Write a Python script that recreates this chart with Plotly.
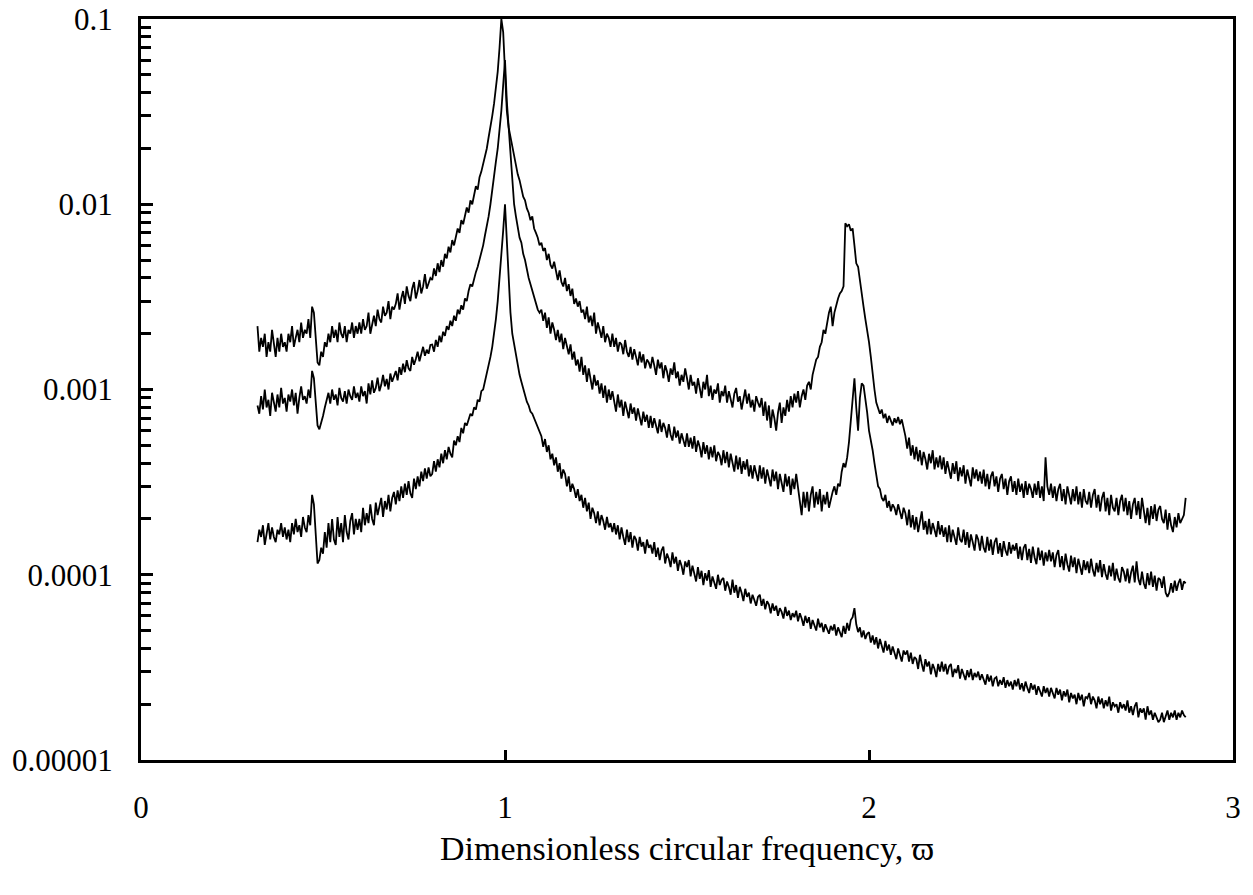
import plotly.graph_objects as go

# sampling grid of the three spectra (dimensionless circular frequency)
x_start = 0.32
x_step = 0.005

# top spectrum
top_vals = [
    # 0.320 - 0.395
    2.2e-3, 1.6e-3, 1.9e-3, 1.7e-3, 2.0e-3, 1.5e-3, 1.8e-3, 1.6e-3, 2.1e-3, 1.7e-3, 1.5e-3, 1.9e-3, 1.6e-3, 2.0e-3, 1.7e-3, 1.8e-3,
    # 0.40
    1.6e-3, 2.0e-3, 1.8e-3, 2.2e-3, 1.7e-3, 1.9e-3, 2.1e-3, 1.8e-3, 2.3e-3, 1.9e-3, 2.1e-3, 2.0e-3, 2.4e-3, 1.9e-3, 2.8e-3, 2.6e-3, 1.9e-3, 1.4e-3, 1.35e-3, 1.6e-3,
    # 0.50
    1.5e-3, 1.8e-3, 1.7e-3, 2.0e-3, 1.8e-3, 2.2e-3, 1.9e-3, 2.1e-3, 1.8e-3, 2.3e-3, 2.0e-3, 1.9e-3, 2.2e-3, 1.8e-3, 2.1e-3, 2.0e-3, 2.3e-3, 1.9e-3, 2.2e-3, 2.0e-3,
    # 0.60
    2.3e-3, 2.0e-3, 2.4e-3, 2.1e-3, 2.2e-3, 2.6e-3, 2.0e-3, 2.3e-3, 2.5e-3, 2.2e-3, 2.7e-3, 2.4e-3, 2.3e-3, 2.8e-3, 2.5e-3, 2.6e-3, 3.0e-3, 2.4e-3, 2.8e-3, 2.7e-3,
    # 0.70
    2.9e-3, 3.3e-3, 2.7e-3, 3.1e-3, 3.4e-3, 2.9e-3, 3.6e-3, 3.2e-3, 3.0e-3, 3.5e-3, 3.8e-3, 3.1e-3, 3.4e-3, 3.9e-3, 3.3e-3, 3.6e-3, 4.2e-3, 3.5e-3, 3.8e-3, 4.0e-3,
    # 0.80
    3.9e-3, 4.5e-3, 4.1e-3, 4.8e-3, 4.3e-3, 5.0e-3, 4.6e-3, 5.4e-3, 5.1e-3, 5.9e-3, 5.5e-3, 6.4e-3, 6.0e-3, 6.8e-3, 7.4e-3, 7.0e-3, 8.2e-3, 7.8e-3, 8.8e-3, 9.6e-3,
    # 0.90
    9.0e-3, 1.05e-2, 1.0e-2, 1.15e-2, 1.25e-2, 1.2e-2, 1.4e-2, 1.5e-2, 1.65e-2, 1.8e-2, 2.0e-2, 2.3e-2, 2.6e-2, 3.0e-2, 3.5e-2, 4.2e-2, 5.2e-2, 7.0e-2, 1.0e-1, 8.5e-2,
    # 1.00
    5.5e-2, 3.2e-2, 2.6e-2, 2.3e-2, 2.0e-2, 1.8e-2, 1.6e-2, 1.45e-2, 1.35e-2, 1.2e-2, 1.1e-2, 1.05e-2, 9.5e-3, 9.0e-3, 8.2e-3, 8.6e-3, 7.4e-3, 7.0e-3, 6.6e-3, 6.0e-3,
    # 1.10
    6.2e-3, 5.6e-3, 5.8e-3, 5.0e-3, 5.4e-3, 4.7e-3, 4.5e-3, 4.9e-3, 4.3e-3, 3.9e-3, 4.4e-3, 3.8e-3, 3.6e-3, 4.0e-3, 3.4e-3, 3.7e-3, 3.2e-3, 3.5e-3, 2.9e-3, 3.1e-3,
    # 1.20
    2.8e-3, 3.0e-3, 2.6e-3, 2.7e-3, 2.4e-3, 2.8e-3, 2.3e-3, 2.5e-3, 2.2e-3, 2.6e-3, 2.0e-3, 2.3e-3, 2.1e-3, 1.9e-3, 2.2e-3, 1.8e-3, 2.0e-3, 1.9e-3, 1.7e-3, 2.0e-3,
    # 1.30
    1.7e-3, 1.9e-3, 1.6e-3, 1.8e-3, 1.75e-3, 1.55e-3, 1.85e-3, 1.6e-3, 1.5e-3, 1.7e-3, 1.45e-3, 1.65e-3, 1.5e-3, 1.35e-3, 1.6e-3, 1.4e-3, 1.55e-3, 1.3e-3, 1.45e-3, 1.4e-3,
    # 1.40
    1.3e-3, 1.5e-3, 1.35e-3, 1.2e-3, 1.45e-3, 1.3e-3, 1.4e-3, 1.15e-3, 1.35e-3, 1.25e-3, 1.1e-3, 1.3e-3, 1.2e-3, 1.4e-3, 1.15e-3, 1.25e-3, 1.05e-3, 1.2e-3, 1.1e-3, 1.3e-3,
    # 1.50
    1.15e-3, 1.0e-3, 1.2e-3, 1.05e-3, 1.1e-3, 9.5e-4, 1.15e-3, 1.0e-3, 9.0e-4, 1.1e-3, 1.0e-3, 1.2e-3, 9.2e-4, 1.05e-3, 8.8e-4, 1.0e-3, 9.5e-4, 1.08e-3, 8.5e-4, 9.8e-4,
    # 1.60
    9.2e-4, 1.05e-3, 8.5e-4, 9.8e-4, 9.0e-4, 8.0e-4, 9.5e-4, 1.02e-3, 8.6e-4, 9.2e-4, 7.8e-4, 9.0e-4, 1.0e-3, 8.4e-4, 9.5e-4, 8.0e-4, 8.8e-4, 7.6e-4, 9.2e-4, 8.5e-4,
    # 1.70
    8.0e-4, 9.0e-4, 7.2e-4, 8.6e-4, 6.8e-4, 8.2e-4, 6.2e-4, 7.8e-4, 7.0e-4, 6.0e-4, 7.5e-4, 8.5e-4, 6.6e-4, 8.0e-4, 7.2e-4, 8.8e-4, 7.6e-4, 9.2e-4, 8.0e-4, 9.5e-4,
    # 1.80
    8.5e-4, 9.8e-4, 8.0e-4, 9.2e-4, 1.0e-3, 8.8e-4, 1.05e-3, 1.1e-3, 1.0e-3, 1.2e-3, 1.3e-3, 1.45e-3, 1.5e-3, 1.7e-3, 1.8e-3, 2.1e-3, 2.0e-3, 2.3e-3, 2.6e-3, 2.8e-3,
    # 1.90
    2.2e-3, 2.6e-3, 2.9e-3, 3.1e-3, 3.3e-3, 3.4e-3, 3.6e-3, 7.9e-3, 7.6e-3, 7.8e-3, 7.2e-3, 7.4e-3, 6.0e-3, 4.8e-3, 4.6e-3, 3.8e-3, 3.3e-3, 2.8e-3, 2.4e-3, 2.1e-3,
    # 2.00
    1.8e-3, 1.5e-3, 1.2e-3, 1.0e-3, 8.5e-4, 8.0e-4, 7.4e-4, 7.8e-4, 7.0e-4, 7.4e-4, 6.6e-4, 7.2e-4, 6.8e-4, 6.4e-4, 7.0e-4, 6.6e-4, 7.1e-4, 6.5e-4, 6.9e-4, 6.2e-4,
    # 2.10
    5.6e-4, 4.8e-4, 5.5e-4, 4.4e-4, 5.0e-4, 4.2e-4, 4.9e-4, 4.1e-4, 4.7e-4, 3.9e-4, 4.6e-4, 4.2e-4, 3.7e-4, 4.5e-4, 4.0e-4, 4.7e-4, 3.7e-4, 4.3e-4, 3.8e-4, 4.4e-4,
    # 2.20
    3.7e-4, 4.3e-4, 3.5e-4, 4.1e-4, 3.6e-4, 3.3e-4, 4.0e-4, 3.5e-4, 4.1e-4, 3.2e-4, 3.8e-4, 3.4e-4, 3.9e-4, 3.1e-4, 3.7e-4, 3.3e-4, 3.0e-4, 3.8e-4, 3.3e-4, 3.7e-4,
    # 2.30
    3.2e-4, 3.6e-4, 3.1e-4, 3.7e-4, 3.0e-4, 3.5e-4, 2.9e-4, 3.4e-4, 3.6e-4, 3.0e-4, 3.4e-4, 2.8e-4, 3.3e-4, 3.5e-4, 2.9e-4, 3.3e-4, 2.7e-4, 3.2e-4, 3.4e-4, 2.8e-4,
    # 2.40
    3.2e-4, 2.7e-4, 3.3e-4, 2.8e-4, 3.1e-4, 2.6e-4, 3.2e-4, 2.7e-4, 3.1e-4, 2.9e-4, 2.6e-4, 3.1e-4, 2.7e-4, 3.2e-4, 2.6e-4, 3.0e-4, 2.5e-4, 4.3e-4, 3.0e-4, 2.7e-4,
    # 2.50
    3.1e-4, 2.6e-4, 3.0e-4, 2.5e-4, 2.9e-4, 3.1e-4, 2.5e-4, 2.9e-4, 2.4e-4, 3.0e-4, 2.7e-4, 2.4e-4, 2.9e-4, 2.5e-4, 3.0e-4, 2.4e-4, 2.8e-4, 2.3e-4, 2.9e-4, 2.5e-4,
    # 2.60
    2.4e-4, 2.8e-4, 2.3e-4, 2.7e-4, 2.9e-4, 2.3e-4, 2.7e-4, 2.2e-4, 2.6e-4, 2.8e-4, 2.2e-4, 2.6e-4, 2.1e-4, 2.7e-4, 2.3e-4, 2.2e-4, 2.6e-4, 2.1e-4, 2.5e-4, 2.7e-4,
    # 2.70
    2.2e-4, 2.6e-4, 2.1e-4, 2.5e-4, 2.0e-4, 2.4e-4, 2.6e-4, 2.1e-4, 2.5e-4, 2.0e-4, 2.6e-4, 2.2e-4, 1.9e-4, 2.3e-4, 1.85e-4, 2.35e-4, 2.0e-4, 2.4e-4, 1.95e-4, 2.25e-4,
    # 2.800 - 2.870
    2.35e-4, 2.0e-4, 1.9e-4, 2.25e-4, 1.75e-4, 2.15e-4, 1.85e-4, 1.7e-4, 2.05e-4, 1.8e-4, 2.15e-4, 1.9e-4, 2.0e-4, 2.1e-4, 2.6e-4,
]

# middle spectrum
mid_vals = [
    # 0.320 - 0.395
    8.2e-4, 7.4e-4, 9.2e-4, 7.8e-4, 1.0e-3, 8.0e-4, 8.8e-4, 7.2e-4, 9.6e-4, 8.4e-4, 7.6e-4, 9.4e-4, 8.0e-4, 1.02e-3, 8.4e-4, 9.0e-4,
    # 0.40
    7.6e-4, 9.4e-4, 8.6e-4, 1.0e-3, 8.2e-4, 9.6e-4, 7.4e-4, 9.0e-4, 1.04e-3, 8.8e-4, 9.2e-4, 8.4e-4, 1.0e-3, 9.0e-4, 1.26e-3, 1.15e-3, 8.5e-4, 6.4e-4, 6.1e-4, 6.6e-4,
    # 0.50
    7.2e-4, 8.0e-4, 8.8e-4, 9.6e-4, 8.4e-4, 1.0e-3, 8.8e-4, 9.4e-4, 8.2e-4, 1.02e-3, 9.0e-4, 8.6e-4, 9.8e-4, 8.4e-4, 1.0e-3, 9.2e-4, 8.8e-4, 1.04e-3, 9.0e-4, 9.6e-4,
    # 0.60
    8.6e-4, 1.04e-3, 9.2e-4, 9.8e-4, 8.4e-4, 1.08e-3, 9.4e-4, 1.12e-3, 9.6e-4, 1.02e-3, 1.16e-3, 9.8e-4, 1.06e-3, 1.2e-3, 1.04e-3, 1.14e-3, 1.0e-3, 1.22e-3, 1.1e-3, 1.18e-3,
    # 0.70
    1.26e-3, 1.12e-3, 1.32e-3, 1.2e-3, 1.38e-3, 1.24e-3, 1.44e-3, 1.3e-3, 1.26e-3, 1.5e-3, 1.36e-3, 1.46e-3, 1.6e-3, 1.42e-3, 1.54e-3, 1.7e-3, 1.52e-3, 1.64e-3, 1.56e-3, 1.74e-3,
    # 0.80
    1.75e-3, 1.6e-3, 1.85e-3, 1.7e-3, 1.95e-3, 1.8e-3, 2.05e-3, 1.95e-3, 2.2e-3, 2.1e-3, 2.35e-3, 2.2e-3, 2.5e-3, 2.35e-3, 2.7e-3, 2.55e-3, 2.85e-3, 2.7e-3, 3.1e-3, 3.0e-3,
    # 0.90
    3.4e-3, 3.7e-3, 3.6e-3, 4.0e-3, 4.3e-3, 4.6e-3, 5.0e-3, 5.6e-3, 6.0e-3, 6.8e-3, 7.6e-3, 8.6e-3, 1.0e-2, 1.2e-2, 1.5e-2, 1.7e-2, 2.0e-2, 2.5e-2, 3.2e-2, 4.4e-2,
    # 1.00
    6.0e-2, 3.6e-2, 2.6e-2, 1.7e-2, 1.25e-2, 1.0e-2, 8.6e-3, 7.4e-3, 6.6e-3, 6.2e-3, 5.4e-3, 5.0e-3, 4.4e-3, 4.0e-3, 3.7e-3, 3.4e-3, 3.2e-3, 2.9e-3, 2.7e-3, 2.6e-3,
    # 1.10
    2.7e-3, 2.35e-3, 2.6e-3, 2.15e-3, 2.45e-3, 2.0e-3, 2.3e-3, 2.1e-3, 1.85e-3, 2.1e-3, 1.8e-3, 2.0e-3, 1.65e-3, 1.9e-3, 1.7e-3, 1.55e-3, 1.75e-3, 1.45e-3, 1.6e-3, 1.35e-3,
    # 1.20
    1.45e-3, 1.25e-3, 1.5e-3, 1.2e-3, 1.35e-3, 1.1e-3, 1.3e-3, 1.15e-3, 1.0e-3, 1.2e-3, 1.05e-3, 1.12e-3, 9.5e-4, 1.08e-3, 9.0e-4, 1.05e-3, 8.5e-4, 1.0e-3, 8.8e-4, 9.8e-4,
    # 1.30
    8.8e-4, 7.6e-4, 9.4e-4, 8.0e-4, 8.8e-4, 7.2e-4, 8.6e-4, 7.8e-4, 7.0e-4, 8.4e-4, 7.4e-4, 8.0e-4, 6.8e-4, 7.9e-4, 7.0e-4, 6.4e-4, 7.6e-4, 6.7e-4, 7.3e-4, 6.2e-4,
    # 1.40
    7.2e-4, 6.2e-4, 7.0e-4, 6.4e-4, 5.8e-4, 6.9e-4, 5.9e-4, 6.6e-4, 6.2e-4, 5.5e-4, 6.5e-4, 5.7e-4, 5.3e-4, 6.3e-4, 5.5e-4, 6.0e-4, 5.1e-4, 5.8e-4, 5.4e-4, 4.9e-4,
    # 1.50
    5.8e-4, 4.9e-4, 5.5e-4, 4.8e-4, 5.6e-4, 4.6e-4, 5.3e-4, 4.9e-4, 4.3e-4, 5.2e-4, 4.5e-4, 5.0e-4, 4.2e-4, 4.9e-4, 4.3e-4, 5.0e-4, 4.1e-4, 4.6e-4, 4.4e-4, 3.9e-4,
    # 1.60
    4.7e-4, 4.0e-4, 4.6e-4, 3.8e-4, 4.5e-4, 4.0e-4, 3.6e-4, 4.4e-4, 3.7e-4, 4.3e-4, 3.5e-4, 4.1e-4, 3.7e-4, 4.2e-4, 3.4e-4, 3.9e-4, 3.3e-4, 3.9e-4, 3.5e-4, 3.2e-4,
    # 1.70
    3.9e-4, 3.3e-4, 3.8e-4, 3.1e-4, 3.7e-4, 3.3e-4, 3.0e-4, 3.7e-4, 3.2e-4, 3.6e-4, 2.9e-4, 3.5e-4, 3.1e-4, 2.8e-4, 3.5e-4, 3.0e-4, 3.4e-4, 2.7e-4, 3.3e-4, 2.9e-4,
    # 1.80
    3.5e-4, 2.9e-4, 2.4e-4, 2.1e-4, 2.8e-4, 2.3e-4, 2.8e-4, 2.2e-4, 2.7e-4, 3.0e-4, 2.3e-4, 2.8e-4, 2.4e-4, 2.9e-4, 2.2e-4, 2.7e-4, 2.4e-4, 2.8e-4, 2.3e-4, 2.6e-4,
    # 1.90
    2.8e-4, 3.0e-4, 2.7e-4, 3.1e-4, 3.0e-4, 3.6e-4, 4.0e-4, 3.8e-4, 4.3e-4, 5.2e-4, 7.0e-4, 9.5e-4, 1.15e-3, 8.0e-4, 6.0e-4, 9.0e-4, 1.08e-3, 1.05e-3, 9.0e-4, 7.5e-4,
    # 2.00
    6.0e-4, 5.4e-4, 4.7e-4, 4.0e-4, 3.4e-4, 3.0e-4, 2.9e-4, 2.6e-4, 2.5e-4, 2.7e-4, 2.3e-4, 2.5e-4, 2.2e-4, 2.4e-4, 2.3e-4, 2.1e-4, 2.4e-4, 2.2e-4, 2.0e-4, 2.3e-4,
    # 2.10
    2.15e-4, 1.85e-4, 2.25e-4, 1.8e-4, 2.1e-4, 1.75e-4, 2.05e-4, 1.7e-4, 2.0e-4, 2.2e-4, 1.75e-4, 1.95e-4, 1.65e-4, 2.0e-4, 1.65e-4, 1.9e-4, 1.75e-4, 1.6e-4, 1.95e-4, 1.65e-4,
    # 2.20
    1.85e-4, 1.6e-4, 1.8e-4, 1.5e-4, 1.85e-4, 1.5e-4, 1.75e-4, 1.6e-4, 1.45e-4, 1.8e-4, 1.55e-4, 1.5e-4, 1.75e-4, 1.45e-4, 1.7e-4, 1.4e-4, 1.65e-4, 1.5e-4, 1.35e-4, 1.65e-4,
    # 2.30
    1.55e-4, 1.35e-4, 1.62e-4, 1.4e-4, 1.32e-4, 1.6e-4, 1.35e-4, 1.55e-4, 1.28e-4, 1.5e-4, 1.58e-4, 1.3e-4, 1.48e-4, 1.25e-4, 1.52e-4, 1.35e-4, 1.27e-4, 1.5e-4, 1.3e-4, 1.45e-4,
    # 2.40
    1.35e-4, 1.48e-4, 1.22e-4, 1.42e-4, 1.2e-4, 1.4e-4, 1.46e-4, 1.2e-4, 1.38e-4, 1.16e-4, 1.42e-4, 1.24e-4, 1.14e-4, 1.4e-4, 1.2e-4, 1.35e-4, 1.12e-4, 1.32e-4, 1.18e-4, 1.36e-4,
    # 2.50
    1.18e-4, 1.32e-4, 1.1e-4, 1.28e-4, 1.36e-4, 1.1e-4, 1.26e-4, 1.06e-4, 1.3e-4, 1.14e-4, 1.04e-4, 1.27e-4, 1.1e-4, 1.24e-4, 1.02e-4, 1.22e-4, 1.08e-4, 1.0e-4, 1.2e-4, 1.06e-4,
    # 2.60
    1.18e-4, 1.02e-4, 1.22e-4, 1.06e-4, 9.8e-5, 1.16e-4, 1.03e-4, 1.2e-4, 9.7e-5, 1.14e-4, 1.01e-4, 9.4e-5, 1.12e-4, 9.8e-5, 1.16e-4, 9.3e-5, 1.08e-4, 9.6e-5, 9.1e-5, 1.1e-4,
    # 2.70
    1.04e-4, 9.2e-5, 1.08e-4, 9.0e-5, 1.03e-4, 1.12e-4, 9.1e-5, 1.18e-4, 9.5e-5, 8.8e-5, 1.04e-4, 9.0e-5, 8.4e-5, 1.02e-4, 8.8e-5, 1.04e-4, 8.6e-5, 9.9e-5, 8.2e-5, 9.6e-5,
    # 2.800 - 2.870
    9.4e-5, 8.5e-5, 9.8e-5, 8.0e-5, 7.6e-5, 8.0e-5, 9.0e-5, 8.0e-5, 9.3e-5, 8.2e-5, 9.0e-5, 9.5e-5, 8.3e-5, 9.2e-5, 9.0e-5,
]

# bottom spectrum
bot_vals = [
    # 0.320 - 0.395
    1.5e-4, 1.75e-4, 1.6e-4, 1.85e-4, 1.45e-4, 1.7e-4, 1.9e-4, 1.55e-4, 1.8e-4, 1.6e-4, 1.5e-4, 1.75e-4, 1.65e-4, 1.9e-4, 1.6e-4, 1.8e-4,
    # 0.40
    1.55e-4, 1.75e-4, 1.5e-4, 1.9e-4, 1.65e-4, 2.0e-4, 1.7e-4, 1.85e-4, 1.6e-4, 2.05e-4, 1.8e-4, 1.7e-4, 2.1e-4, 1.85e-4, 2.7e-4, 2.4e-4, 1.6e-4, 1.15e-4, 1.2e-4, 1.4e-4,
    # 0.50
    1.3e-4, 1.7e-4, 1.4e-4, 1.9e-4, 1.5e-4, 2.0e-4, 1.55e-4, 1.45e-4, 2.05e-4, 1.6e-4, 1.9e-4, 1.5e-4, 2.1e-4, 1.7e-4, 1.55e-4, 1.95e-4, 2.15e-4, 1.65e-4, 2.0e-4, 1.75e-4,
    # 0.60
    2.0e-4, 1.7e-4, 2.3e-4, 1.85e-4, 2.15e-4, 1.9e-4, 2.4e-4, 2.0e-4, 1.85e-4, 2.45e-4, 2.1e-4, 2.35e-4, 2.6e-4, 2.05e-4, 2.5e-4, 2.25e-4, 2.7e-4, 2.2e-4, 2.6e-4, 2.8e-4,
    # 0.70
    2.4e-4, 2.85e-4, 2.5e-4, 3.0e-4, 2.6e-4, 3.1e-4, 2.7e-4, 3.2e-4, 2.75e-4, 2.6e-4, 3.3e-4, 2.9e-4, 3.4e-4, 3.0e-4, 3.6e-4, 3.2e-4, 3.75e-4, 3.3e-4, 3.8e-4, 3.4e-4,
    # 0.80
    3.5e-4, 4.1e-4, 3.6e-4, 4.2e-4, 3.8e-4, 4.5e-4, 4.0e-4, 4.7e-4, 4.2e-4, 4.9e-4, 4.5e-4, 4.3e-4, 5.3e-4, 5.0e-4, 5.6e-4, 5.2e-4, 6.2e-4, 5.8e-4, 6.6e-4, 6.4e-4,
    # 0.90
    6.9e-4, 7.4e-4, 7.2e-4, 8.0e-4, 7.8e-4, 8.8e-4, 8.6e-4, 9.8e-4, 1.0e-3, 1.1e-3, 1.2e-3, 1.35e-3, 1.5e-3, 1.7e-3, 2.0e-3, 2.4e-3, 3.0e-3, 3.9e-3, 5.2e-3, 7.2e-3,
    # 1.00
    1.0e-2, 6.0e-3, 3.6e-3, 2.6e-3, 2.0e-3, 1.75e-3, 1.6e-3, 1.35e-3, 1.2e-3, 1.1e-3, 1.0e-3, 9.4e-4, 8.6e-4, 8.2e-4, 7.6e-4, 7.4e-4, 7.0e-4, 6.6e-4, 6.2e-4, 5.8e-4,
    # 1.10
    5.6e-4, 4.9e-4, 5.4e-4, 4.6e-4, 5.0e-4, 4.2e-4, 4.5e-4, 3.9e-4, 4.3e-4, 3.6e-4, 4.0e-4, 3.3e-4, 3.7e-4, 3.5e-4, 3.0e-4, 3.4e-4, 2.8e-4, 3.1e-4, 2.9e-4, 2.6e-4,
    # 1.20
    2.9e-4, 2.5e-4, 2.7e-4, 2.3e-4, 2.6e-4, 2.2e-4, 2.45e-4, 2.0e-4, 2.3e-4, 2.15e-4, 1.9e-4, 2.2e-4, 1.85e-4, 2.1e-4, 1.95e-4, 1.75e-4, 2.05e-4, 1.8e-4, 1.9e-4, 1.7e-4,
    # 1.30
    1.9e-4, 1.65e-4, 1.85e-4, 1.55e-4, 1.8e-4, 1.6e-4, 1.45e-4, 1.75e-4, 1.5e-4, 1.7e-4, 1.4e-4, 1.62e-4, 1.55e-4, 1.35e-4, 1.6e-4, 1.42e-4, 1.5e-4, 1.3e-4, 1.55e-4, 1.4e-4,
    # 1.40
    1.45e-4, 1.3e-4, 1.5e-4, 1.25e-4, 1.4e-4, 1.2e-4, 1.35e-4, 1.42e-4, 1.15e-4, 1.3e-4, 1.22e-4, 1.1e-4, 1.32e-4, 1.15e-4, 1.25e-4, 1.05e-4, 1.2e-4, 1.12e-4, 1.0e-4, 1.18e-4,
    # 1.50
    1.1e-4, 1.2e-4, 9.8e-5, 1.12e-4, 1.02e-4, 9.2e-5, 1.1e-4, 9.5e-5, 1.05e-4, 8.8e-5, 1.02e-4, 9.3e-5, 1.06e-4, 8.6e-5, 9.8e-5, 9.0e-5, 8.4e-5, 1.0e-4, 8.8e-5, 9.4e-5,
    # 1.60
    9.6e-5, 8.2e-5, 9.2e-5, 8.6e-5, 7.8e-5, 9.4e-5, 8.0e-5, 8.8e-5, 7.5e-5, 8.6e-5, 8.0e-5, 7.2e-5, 8.4e-5, 7.6e-5, 8.0e-5, 7.0e-5, 7.8e-5, 7.3e-5, 6.8e-5, 7.6e-5,
    # 1.70
    7.8e-5, 6.8e-5, 7.4e-5, 6.5e-5, 7.2e-5, 6.9e-5, 6.2e-5, 7.0e-5, 6.4e-5, 6.8e-5, 6.0e-5, 6.6e-5, 6.3e-5, 5.8e-5, 6.7e-5, 6.0e-5, 6.4e-5, 5.7e-5, 6.2e-5, 5.9e-5,
    # 1.80
    6.4e-5, 5.6e-5, 6.2e-5, 5.8e-5, 5.3e-5, 6.0e-5, 5.5e-5, 5.9e-5, 5.1e-5, 5.7e-5, 5.4e-5, 5.0e-5, 5.8e-5, 5.2e-5, 5.5e-5, 4.9e-5, 5.4e-5, 5.1e-5, 4.8e-5, 5.3e-5,
    # 1.90
    5.0e-5, 5.4e-5, 4.7e-5, 5.2e-5, 4.9e-5, 4.6e-5, 5.3e-5, 4.8e-5, 5.5e-5, 5.0e-5, 5.7e-5, 5.9e-5, 6.6e-5, 5.4e-5, 4.9e-5, 5.2e-5, 4.6e-5, 5.0e-5, 4.5e-5, 4.8e-5,
    # 2.00
    4.9e-5, 4.3e-5, 4.7e-5, 4.2e-5, 4.6e-5, 4.0e-5, 4.5e-5, 4.1e-5, 3.8e-5, 4.4e-5, 3.9e-5, 4.2e-5, 3.7e-5, 4.1e-5, 3.8e-5, 3.5e-5, 4.0e-5, 3.7e-5, 3.4e-5, 3.9e-5,
    # 2.10
    3.7e-5, 3.9e-5, 3.4e-5, 3.8e-5, 3.3e-5, 3.6e-5, 3.5e-5, 3.1e-5, 3.7e-5, 3.3e-5, 3.0e-5, 3.5e-5, 3.2e-5, 3.4e-5, 2.9e-5, 3.3e-5, 3.1e-5, 2.8e-5, 3.3e-5, 3.0e-5,
    # 2.20
    3.4e-5, 3.0e-5, 3.3e-5, 2.9e-5, 3.2e-5, 3.3e-5, 2.8e-5, 3.1e-5, 2.95e-5, 3.25e-5, 2.75e-5, 3.1e-5, 2.9e-5, 2.7e-5, 3.05e-5, 2.8e-5, 3.1e-5, 2.7e-5, 2.95e-5, 2.8e-5,
    # 2.30
    3.0e-5, 2.7e-5, 2.9e-5, 2.75e-5, 2.55e-5, 2.9e-5, 2.65e-5, 2.85e-5, 2.5e-5, 2.75e-5, 2.8e-5, 2.5e-5, 2.7e-5, 2.55e-5, 2.8e-5, 2.45e-5, 2.7e-5, 2.5e-5, 2.65e-5, 2.4e-5,
    # 2.40
    2.7e-5, 2.5e-5, 2.75e-5, 2.4e-5, 2.6e-5, 2.35e-5, 2.65e-5, 2.45e-5, 2.3e-5, 2.6e-5, 2.4e-5, 2.55e-5, 2.25e-5, 2.5e-5, 2.35e-5, 2.2e-5, 2.5e-5, 2.3e-5, 2.45e-5, 2.2e-5,
    # 2.50
    2.45e-5, 2.3e-5, 2.15e-5, 2.45e-5, 2.25e-5, 2.4e-5, 2.1e-5, 2.35e-5, 2.2e-5, 2.4e-5, 2.05e-5, 2.3e-5, 2.15e-5, 2.25e-5, 2.0e-5, 2.3e-5, 2.1e-5, 2.25e-5, 1.95e-5, 2.2e-5,
    # 2.60
    2.15e-5, 2.3e-5, 2.0e-5, 2.2e-5, 2.1e-5, 1.9e-5, 2.2e-5, 2.0e-5, 2.15e-5, 1.9e-5, 2.1e-5, 1.95e-5, 2.2e-5, 1.85e-5, 2.05e-5, 1.95e-5, 2.0e-5, 1.8e-5, 2.05e-5, 1.9e-5,
    # 2.70
    2.0e-5, 1.85e-5, 2.1e-5, 1.8e-5, 1.95e-5, 1.75e-5, 1.95e-5, 2.05e-5, 1.7e-5, 1.9e-5, 1.8e-5, 1.9e-5, 1.65e-5, 1.95e-5, 1.75e-5, 1.85e-5, 1.65e-5, 1.8e-5, 1.7e-5, 1.6e-5,
    # 2.800 - 2.870
    1.65e-5, 1.8e-5, 1.6e-5, 1.75e-5, 1.85e-5, 1.65e-5, 1.8e-5, 1.7e-5, 1.85e-5, 1.65e-5, 1.8e-5, 1.7e-5, 1.85e-5, 1.75e-5, 1.7e-5,
]

assert len(top_vals) == len(mid_vals) == len(bot_vals) == 511, (len(top_vals), len(mid_vals), len(bot_vals))

x_tickvals = [0, 1, 2, 3]
x_ticktext = ["0", "1", "2", "3"]
y_tickvals = [1e-5, 1e-4, 1e-3, 1e-2, 1e-1]
y_ticktext = ["0.00001", "0.0001", "0.001", "0.01", "0.1"]
y_minorvals = [k * 10.0 ** e for e in range(-5, -1) for k in range(2, 10)]

FONT = "Liberation Serif, Times New Roman, serif"

fig = go.Figure()
for vals in (top_vals, mid_vals, bot_vals):
    fig.add_trace(go.Scatter(
        x0=x_start, dx=x_step, y=vals, mode="lines",
        line=dict(color="black", width=1.8), showlegend=False,
        hoverinfo="skip",
    ))

fig.update_layout(
    width=1253, height=895,
    margin=dict(l=141, r=20, t=19, b=135),
    paper_bgcolor="white", plot_bgcolor="white",
    font=dict(family=FONT, size=31, color="black"),
    showlegend=False,
)
fig.update_xaxes(
    range=[0, 3], showgrid=False, zeroline=False,
    showline=True, linecolor="black", linewidth=3, mirror=True,
    tickmode="array", tickvals=x_tickvals, ticktext=x_ticktext,
    ticks="inside", ticklen=10, tickwidth=3, tickcolor="black",
    ticklabelstandoff=18, ticklabeloverflow="allow",
    tickfont=dict(family=FONT, size=31),
    title=dict(text="Dimensionless circular frequency, \u03d6",
               font=dict(family=FONT, size=34), standoff=12),
    automargin=False,
)
fig.update_yaxes(
    type="log", range=[-5, -1], showgrid=False, zeroline=False,
    showline=True, linecolor="black", linewidth=3, mirror=True,
    tickmode="array", tickvals=y_tickvals, ticktext=y_ticktext,
    ticks="inside", ticklen=12, tickwidth=3, tickcolor="black",
    ticklabelstandoff=19, ticklabeloverflow="allow",
    tickfont=dict(family=FONT, size=31),
    minor=dict(tickmode="array", tickvals=y_minorvals, ticks="inside",
               ticklen=10, tickwidth=3, tickcolor="black", showgrid=False),
    automargin=False,
)

fig.write_html("out.html", config={"displayModeBar": False},
               post_script="document.body.style.margin='0px';")
